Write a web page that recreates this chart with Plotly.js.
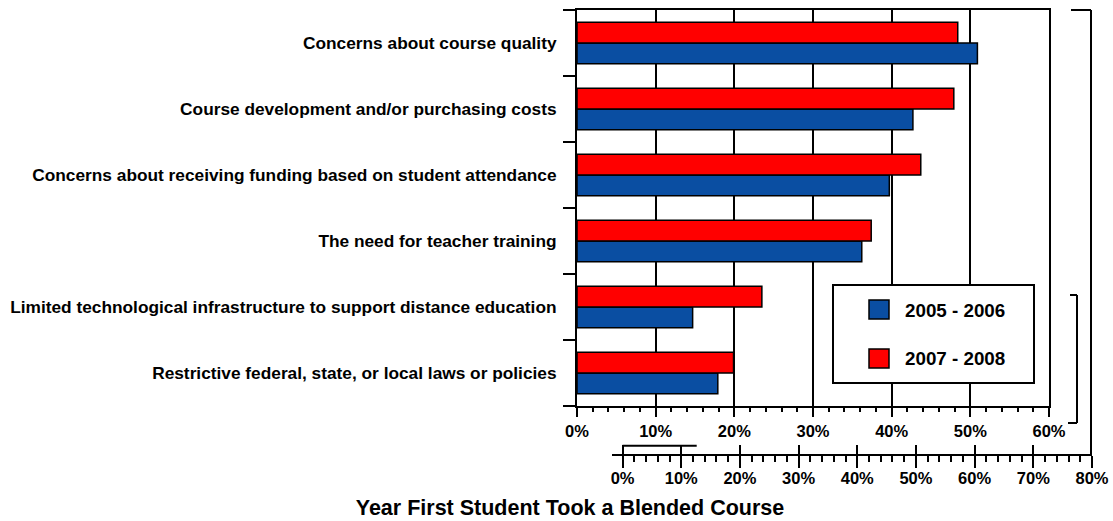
<!DOCTYPE html>
<html>
<head>
<meta charset="utf-8">
<script src="https://cdn.plot.ly/plotly-3.0.1.min.js"></script>
<style>html,body{margin:0;padding:0;background:#fff;}#chart{width:1113px;height:521px;}</style>
</head>
<body>
<div id="chart"></div>
<script>
// ---- data (top-to-bottom order as in the reference) ----
const categories = [
  "Concerns about course quality",
  "Course development and/or purchasing costs",
  "Concerns about receiving funding based on student attendance",
  "The need for teacher training",
  "Limited technological infrastructure to support distance education",
  "Restrictive federal, state, or local laws or policies"
];
const values2005 = [50.9, 42.7, 39.7, 36.2, 14.7, 17.9];
const values2007 = [48.4, 47.9, 43.7, 37.4, 23.5, 19.9];
const seriesNames = ["2005 - 2006", "2007 - 2008"];
const xTicks1 = [0, 10, 20, 30, 40, 50, 60];
const xTicks2 = [0, 10, 20, 30, 40, 50, 60, 70, 80];
const xTickText1 = ["0%", "10%", "20%", "30%", "40%", "50%", "60%"];
const xTickText2 = ["0%", "10%", "20%", "30%", "40%", "50%", "60%", "70%", "80%"];
const chartTitle = "Year First Student Took a Blended Course";

// ---- geometry helpers (pixel -> paper) ----
const W = 1113, H = 521;
const mL = 577, mR = 21, mT = 10, mB = 67;
const PW = W - mL - mR, PH = H - mT - mB;
const px = p => (p - mL) / PW;
const py = p => (H - mB - p) / PH;

const BLUE = "#0A4EA2", RED = "#FF0000";
const FONT = {family: "Liberation Sans, Arial, sans-serif", color: "#000", weight: 700};
const f = s => Object.assign({}, FONT, {size: s});

const traces = [
  {type: "bar", orientation: "h", name: seriesNames[0], y: categories, x: values2005,
   marker: {color: BLUE, line: {color: "#000", width: 1.5}}, showlegend: false, hoverinfo: "x+y"},
  {type: "bar", orientation: "h", name: seriesNames[1], y: categories, x: values2007,
   marker: {color: RED, line: {color: "#000", width: 1.5}}, showlegend: false, hoverinfo: "x+y"},
  // empty traces so the secondary scale axes are created
  {type: "scatter", x: [], y: [], xaxis: "x2", yaxis: "y2", showlegend: false, hoverinfo: "skip"},
  {type: "scatter", x: [], y: [], xaxis: "x3", yaxis: "y2", showlegend: false, hoverinfo: "skip"}
];

const line = (x0, y0, x1, y1) => ({type: "line", xref: "paper", yref: "paper",
  x0: px(x0), y0: py(y0), x1: px(x1), y1: py(y1), line: {color: "#000", width: 2}});

const shapes = [
  line(622.5, 445.7, 696.7, 445.7),
  line(1070, 295, 1077, 295), line(1077, 295, 1077, 423), line(1077, 423, 1068, 423),
  line(1071, 10, 1091, 10), line(1091, 10, 1091, 454),
  {type: "rect", xref: "paper", yref: "paper", x0: px(833), x1: px(1034), y0: py(285), y1: py(383),
   line: {color: "#000", width: 2}, fillcolor: "#fff"},
  {type: "rect", xref: "paper", yref: "paper", x0: px(869), x1: px(889), y0: py(300), y1: py(319),
   line: {color: "#000", width: 1.5}, fillcolor: BLUE},
  {type: "rect", xref: "paper", yref: "paper", x0: px(869), x1: px(889), y0: py(349), y1: py(368),
   line: {color: "#000", width: 1.5}, fillcolor: RED}
];

const annotations = [
  {xref: "paper", yref: "paper", x: px(903), y: py(310), xanchor: "left", yanchor: "middle",
   text: seriesNames[0], showarrow: false, font: f(18.8)},
  {xref: "paper", yref: "paper", x: px(903), y: py(358.5), xanchor: "left", yanchor: "middle",
   text: seriesNames[1], showarrow: false, font: f(18.8)}
];

const layout = {
  width: W, height: H,
  margin: {l: mL, r: mR, t: mT, b: mB, pad: 0},
  paper_bgcolor: "#fff", plot_bgcolor: "rgba(0,0,0,0)",
  barmode: "group", bargap: 0.37, bargroupgap: 0,
  font: FONT,
  title: {text: chartTitle, font: f(21.5),
          xref: "container", yref: "container", x: 570 / W, y: 1 - 507 / H,
          xanchor: "center", yanchor: "middle"},
  xaxis: {domain: [0, px(1049)], range: [0, 60], tickmode: "array", tickvals: xTicks1, ticktext: xTickText1,
          showgrid: true, gridcolor: "#000", gridwidth: 2, zeroline: false,
          showline: true, linecolor: "#000", linewidth: 2, mirror: true,
          ticks: "outside", ticklen: 9, tickwidth: 2, tickcolor: "#000",
          minor: {dtick: 2, ticks: "outside", ticklen: 4, tickwidth: 2, tickcolor: "#000", showgrid: false},
          tickfont: f(16.5), fixedrange: true},
  xaxis2: {anchor: "y2", domain: [px(611.7), 1], range: [-1.85, 80],
           tickmode: "array", tickvals: xTicks2, ticktext: xTickText2, showgrid: false, zeroline: false,
           showline: true, linecolor: "#000", linewidth: 2,
           ticks: "outside", ticklen: 12, tickwidth: 2, tickcolor: "#000",
           minor: {dtick: 2, ticks: "outside", ticklen: 6, tickwidth: 2, tickcolor: "#000", showgrid: false},
           ticklabelstandoff: -4,
           tickfont: f(16.5), fixedrange: true},
  xaxis3: {overlaying: "x2", anchor: "y2", range: [-1.85, 80],
           tickmode: "array", tickvals: xTicks2, showticklabels: false, showgrid: false, zeroline: false, showline: false,
           ticks: "inside", ticklen: 9, tickwidth: 2, tickcolor: "#000", fixedrange: true},
  yaxis: {domain: [py(406), 1], type: "category", categoryorder: "array",
          categoryarray: categories.slice().reverse(),
          showgrid: false, zeroline: false, showline: true, linecolor: "#000", linewidth: 2, mirror: true,
          ticks: "outside", tickson: "boundaries", ticklen: 12, tickwidth: 2, tickcolor: "#000",
          ticklabelstandoff: 15,
          tickfont: f(17.3), fixedrange: true},
  yaxis2: {domain: [0, 0.005], anchor: "x2", visible: false, showgrid: false, zeroline: false,
           showline: false, showticklabels: false, ticks: "", fixedrange: true},
  shapes: shapes, annotations: annotations
};

Plotly.newPlot("chart", traces, layout, {displayModeBar: false, staticPlot: true});
</script>
</body>
</html>
